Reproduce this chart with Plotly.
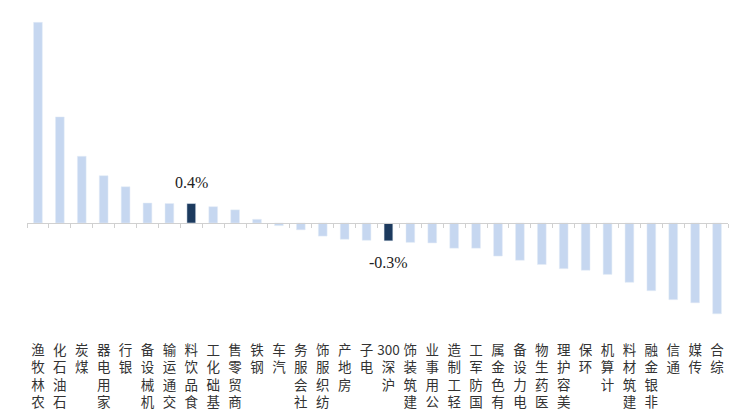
import plotly.graph_objects as go

# 行业周涨跌幅（%），按从高到低排列
industries = ['农林牧渔', '石油石化', '煤炭', '家用电器', '银行', '机械设备', '交通运输', '食品饮料',
              '基础化工', '商贸零售', '钢铁', '汽车', '社会服务', '纺织服饰', '房地产', '电子',
              '沪深300', '建筑装饰', '公用事业', '轻工制造', '国防军工', '有色金属', '电力设备',
              '医药生物', '美容护理', '环保', '计算机', '建筑材料', '非银金融', '通信', '传媒', '综合']
changes = [3.82, 2.02, 1.27, 0.90, 0.69, 0.38, 0.37, 0.37,
           0.31, 0.25, 0.07, -0.05, -0.13, -0.25, -0.31, -0.33,
           -0.34, -0.37, -0.38, -0.48, -0.48, -0.63, -0.71,
           -0.79, -0.87, -0.90, -0.98, -1.13, -1.29, -1.46, -1.52, -1.73]
highlight = ['食品饮料', '沪深300']

light = '#c6d7f0'
dark = '#1c3a5e'
colors = [dark if c in highlight else light for c in industries]


# 竖排标签：字符自下而上排列，数字保持一组
def stack(name):
    parts = []
    buf = ''
    for ch in name:
        if ch.isdigit():
            buf += ch
        else:
            if buf:
                parts.append(buf)
                buf = ''
            parts.append(ch)
    if buf:
        parts.append(buf)
    return '<br>'.join(reversed(parts))


ticktext = [stack(c) for c in industries]

ymin, ymax = -2.19, 3.96
zero_pos = (0 - ymin) / (ymax - ymin)

fig = go.Figure()
fig.add_trace(go.Bar(x=industries, y=changes, marker_color=colors, marker_line_width=0,
                     showlegend=False))
# 零轴刻度用的透明副本
fig.add_trace(go.Bar(x=industries, y=changes, marker_color='rgba(0,0,0,0)', xaxis='x2',
                     showlegend=False, hoverinfo='skip'))

for c, v in zip(industries, changes):
    if c in highlight:
        fig.add_annotation(x=c, y=v, text='{:.1f}%'.format(v), showarrow=False,
                           yshift=21 if v > 0 else -22,
                           font=dict(family='Liberation Serif', size=16, color='#222'))

fig.update_layout(
    width=743, height=409,
    margin=dict(l=27, r=15, t=15, b=71, autoexpand=False),
    paper_bgcolor='white', plot_bgcolor='white',
    bargap=0.6,
    font=dict(family='Noto Sans CJK SC', size=13, color='#333'),
    xaxis=dict(type='category', tickmode='array', tickvals=industries, ticktext=ticktext,
               showline=False, showgrid=False, ticks='', tickangle=0, ticklabelstandoff=2,
               automargin=False, tickfont=dict(size=13.5, color='#333')),
    xaxis2=dict(type='category', overlaying='x', matches='x', anchor='free', position=zero_pos,
                side='bottom', showline=True, linecolor='#d0d0d0', linewidth=1,
                ticks='outside', tickson='boundaries', ticklen=4, tickcolor='#d0d0d0',
                showticklabels=False, showgrid=False, automargin=False),
    yaxis=dict(range=[ymin, ymax], visible=False, zeroline=False, showgrid=False,
               automargin=False),
)

fig.write_html('out.html', config={'displayModeBar': False},
               post_script="document.body.style.margin='0';")
